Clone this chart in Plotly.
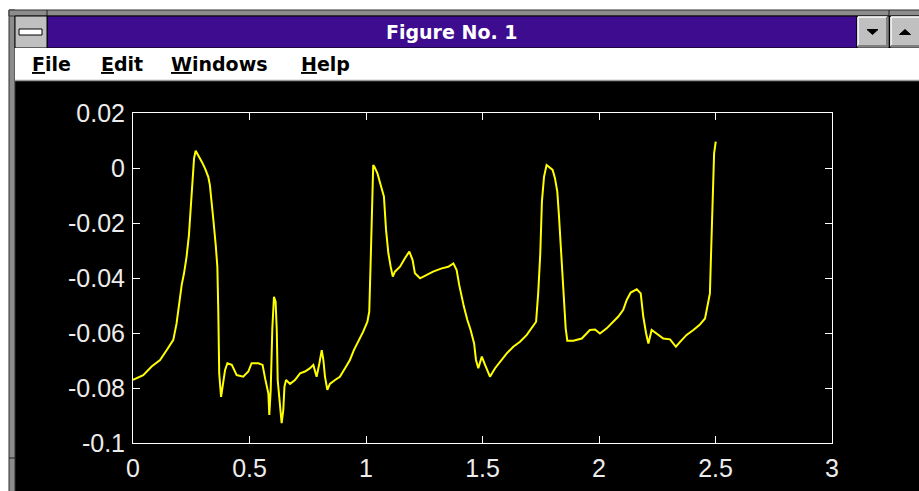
import plotly.graph_objects as go

# ---- data ----
t = [0.000, 0.044, 0.080, 0.116, 0.145, 0.173, 0.187, 0.199, 0.209, 0.219, 0.230, 0.240, 0.248, 0.255,
     0.262, 0.269, 0.280, 0.295, 0.309, 0.323, 0.330, 0.337, 0.345, 0.355, 0.362, 0.366, 0.370, 0.378,
     0.385, 0.395, 0.405, 0.424, 0.445, 0.473, 0.495, 0.509, 0.538, 0.556, 0.567, 0.574, 0.581, 0.585,
     0.591, 0.598, 0.605, 0.612, 0.617, 0.621, 0.627, 0.631, 0.638, 0.645, 0.650, 0.657, 0.674, 0.695,
     0.717, 0.738, 0.760, 0.774, 0.788, 0.800, 0.810, 0.817, 0.824, 0.834, 0.845, 0.867, 0.888, 0.910,
     0.931, 0.948, 0.967, 0.988, 1.006, 1.014, 1.020, 1.026, 1.031, 1.036, 1.049, 1.063, 1.077, 1.086,
     1.096, 1.106, 1.115, 1.124, 1.146, 1.167, 1.186, 1.200, 1.210, 1.232, 1.260, 1.288, 1.325, 1.353,
     1.375, 1.389, 1.400, 1.410, 1.420, 1.435, 1.449, 1.464, 1.472, 1.482, 1.497, 1.511, 1.532, 1.554,
     1.575, 1.604, 1.632, 1.661, 1.690, 1.711, 1.730, 1.739, 1.748, 1.755, 1.764, 1.775, 1.801, 1.811,
     1.821, 1.828, 1.835, 1.841, 1.850, 1.857, 1.864, 1.890, 1.926, 1.961, 1.983, 2.004, 2.033, 2.054,
     2.083, 2.104, 2.119, 2.136, 2.162, 2.179, 2.190, 2.202, 2.212, 2.226, 2.247, 2.276, 2.305, 2.330,
     2.348, 2.376, 2.405, 2.431, 2.455, 2.469, 2.476, 2.481, 2.488, 2.494, 2.501]

signal = [-0.0770, -0.0753, -0.0722, -0.0698, -0.0662, -0.0625, -0.0565, -0.0486, -0.0425, -0.0383, -0.0322,
          -0.0244, -0.0153, -0.0044, 0.0035, 0.0063, 0.0047, 0.0023, -0.0001, -0.0032, -0.0062, -0.0116,
          -0.0189, -0.0280, -0.0359, -0.0516, -0.0747, -0.0832, -0.0795, -0.0735, -0.0710, -0.0716, -0.0753,
          -0.0759, -0.0740, -0.0710, -0.0710, -0.0716, -0.0765, -0.0800, -0.0820, -0.0898, -0.0807, -0.0583,
          -0.0468, -0.0486, -0.0589, -0.0771, -0.0832, -0.0874, -0.0928, -0.0880, -0.0795, -0.0771, -0.0785,
          -0.0771, -0.0747, -0.0740, -0.0728, -0.0716, -0.0759, -0.0710, -0.0662, -0.0698, -0.0759, -0.0807,
          -0.0785, -0.0771, -0.0759, -0.0728, -0.0698, -0.0662, -0.0632, -0.0595, -0.0559, -0.0522, -0.0341,
          -0.0165, 0.0011, 0.0005, -0.0019, -0.0062, -0.0104, -0.0225, -0.0310, -0.0359, -0.0395, -0.0377,
          -0.0359, -0.0328, -0.0304, -0.0335, -0.0383, -0.0401, -0.0389, -0.0377, -0.0365, -0.0359, -0.0347,
          -0.0371, -0.0425, -0.0468, -0.0504, -0.0553, -0.0589, -0.0638, -0.0698, -0.0728, -0.0686, -0.0716,
          -0.0759, -0.0728, -0.0704, -0.0674, -0.0650, -0.0632, -0.0607, -0.0583, -0.0559, -0.0456, -0.0310,
          -0.0122, -0.0032, 0.0011, -0.0007, -0.0037, -0.0086, -0.0171, -0.0262, -0.0371, -0.0468, -0.0583,
          -0.0628, -0.0628, -0.0620, -0.0589, -0.0587, -0.0602, -0.0583, -0.0565, -0.0540, -0.0516, -0.0480,
          -0.0453, -0.0441, -0.0456, -0.0540, -0.0601, -0.0638, -0.0589, -0.0601, -0.0620, -0.0623, -0.0650,
          -0.0632, -0.0607, -0.0589, -0.0571, -0.0547, -0.0492, -0.0456, -0.0310, -0.0104, 0.0053, 0.0096]

x_ticks = [0, 0.5, 1, 1.5, 2, 2.5, 3]
x_tick_labels = ["0", "0.5", "1", "1.5", "2", "2.5", "3"]
y_ticks = [-0.1, -0.08, -0.06, -0.04, -0.02, 0, 0.02]
y_tick_labels = ["-0.1", "-0.08", "-0.06", "-0.04", "-0.02", "0", "0.02"]

window_title = "Figure No. 1"
menu_items = ["File", "Edit", "Windows", "Help"]

# ---- layout geometry (screen pixels) ----
W, H = 919, 491
PL, PR, PT, PB = 133, 832, 113, 443          # plot area in screen pixels
L, R, T, B = PL, W - PR, PT, H - PB
PW, PH = PR - PL, PB - PT


def px(x):
    return (x - PL) / PW


def py(y):
    return (PB - y) / PH


def rect(x0, y0, x1, y1, fill, line=None, lw=0):
    d = dict(type="rect", xref="paper", yref="paper",
             x0=px(x0), x1=px(x1), y0=py(y1), y1=py(y0),
             fillcolor=fill, layer="above")
    d["line"] = dict(color=line, width=lw) if line else dict(width=0)
    return d


def seg(x0, y0, x1, y1, color, lw=1):
    return dict(type="line", xref="paper", yref="paper",
                x0=px(x0), x1=px(x1), y0=py(y0), y1=py(y1),
                line=dict(color=color, width=lw), layer="above")


def tri(pts, color):
    path = "M " + " L ".join(f"{px(a)},{py(b)}" for a, b in pts) + " Z"
    return dict(type="path", xref="paper", yref="paper", path=path,
                fillcolor=color, line=dict(color=color, width=1), layer="above")


fig = go.Figure()
fig.add_trace(go.Scatter(x=t, y=signal, mode="lines",
                         line=dict(color="#ffff00", width=2), hoverinfo="skip",
                         showlegend=False))

shapes = [
    # page white outside the window
    rect(-1, -1, W + 1, 10, "#ffffff"),
    rect(-1, -1, 9, H + 1, "#ffffff"),
    # window frame
    rect(9, 10, 15, H + 2, "#8c8c8c", "#303030", 1),
    rect(9, 10, W + 2, 16, "#8c8c8c", "#303030", 1),
    seg(9, 458, 15, 458, "#202020", 1),
    seg(47, 10, 47, 16, "#202020", 1),
    seg(889, 10, 889, 16, "#202020", 1),
    # title bar
    rect(47, 16, 857, 48, "#3d0c8f", "#000000", 1),
    # system menu box
    rect(15, 16, 47, 48, "#c0c0c0", "#000000", 1),
    rect(19, 29, 42, 35, "#ffffff", "#000000", 1),
    # minimize / maximize buttons
    rect(857, 16, 889, 48, "#c0c0c0", "#000000", 1),
    rect(890, 16, W + 2, 48, "#c0c0c0", "#000000", 1),
    seg(858, 17, 887, 17, "#ffffff", 1.5),
    seg(858, 17, 858, 46, "#ffffff", 1.5),
    seg(858, 46, 888, 46, "#808080", 2),
    seg(887, 17, 887, 47, "#808080", 2),
    seg(891, 17, W, 17, "#ffffff", 1.5),
    seg(891, 17, 891, 46, "#ffffff", 1.5),
    seg(891, 46, W, 46, "#808080", 2),
    tri([(867, 29.5), (878, 29.5), (872.5, 34.5)], "#000000"),
    tri([(899.5, 34.5), (910.5, 34.5), (905, 29.5)], "#000000"),
    # menu bar
    rect(15, 48, W + 2, 80, "#ffffff"),
    seg(15, 80.5, W + 2, 80.5, "#9a9a9a", 1.5),
]

annotations = [
    dict(text="<b>" + window_title + "</b>", xref="paper", yref="paper",
         x=px(452), y=py(32), xanchor="center", yanchor="middle", showarrow=False,
         font=dict(family="DejaVu Sans", size=19, color="#ffffff")),
]
menu_x = [30, 99, 169, 299]
for name, mx in zip(menu_items, menu_x):
    annotations.append(dict(
        text="<b><u>" + name[0] + "</u>" + name[1:] + "</b>", xref="paper", yref="paper",
        x=px(mx), y=py(64), xanchor="left", yanchor="middle", showarrow=False,
        font=dict(family="DejaVu Sans", size=19, color="#000000")))

axis_common = dict(showgrid=False, zeroline=False, showline=True, linecolor="#ffffff",
                   linewidth=1, mirror="ticks", ticks="inside", ticklen=7, tickwidth=1,
                   tickcolor="#ffffff", automargin=False,
                   tickfont=dict(family="Liberation Sans", size=25, color="#ececec"))

fig.update_layout(
    width=W, height=H, autosize=False,
    margin=dict(l=L, r=R, t=T, b=B, pad=0, autoexpand=False),
    paper_bgcolor="#000000", plot_bgcolor="#000000",
    xaxis=dict(range=[0, 3], tickmode="array", tickvals=x_ticks, ticktext=x_tick_labels,
               ticklabelstandoff=3, **axis_common),
    yaxis=dict(range=[-0.1, 0.02], tickmode="array", tickvals=y_ticks, ticktext=y_tick_labels,
               ticklabelstandoff=2, **axis_common),
    shapes=shapes, annotations=annotations, showlegend=False,
)

fig.write_html(
    "out.html",
    config={"displayModeBar": False},
    post_script="document.body.style.margin='0';document.body.style.overflow='hidden';",
)
